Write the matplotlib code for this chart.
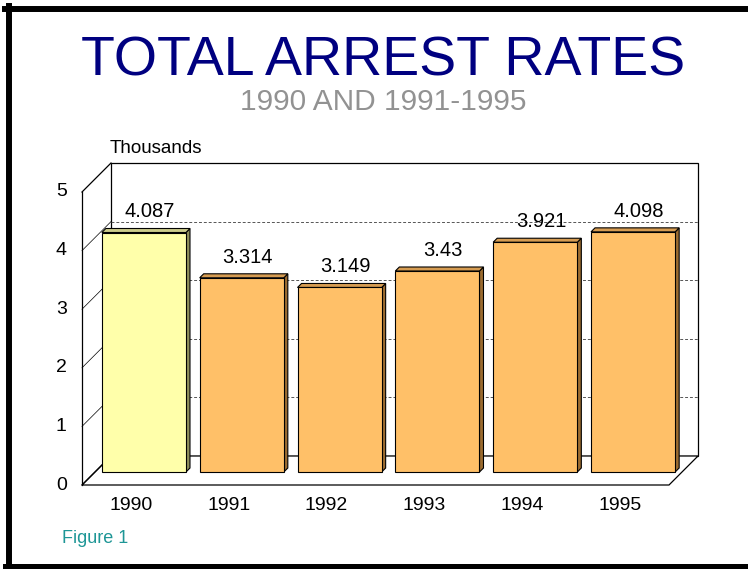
import matplotlib
matplotlib.use('Agg')
import matplotlib.pyplot as plt
from matplotlib.patches import Polygon
from matplotlib.lines import Line2D

plt.rcParams['font.family'] = ['Liberation Sans', 'DejaVu Sans']

years = ['1990', '1991', '1992', '1993', '1994', '1995']
rates = [4.087, 3.314, 3.149, 3.43, 3.921, 4.098]
labels = ['4.087', '3.314', '3.149', '3.43', '3.921', '4.098']
yticks = [0, 1, 2, 3, 4, 5]

# face / top / side colours: first year highlighted in yellow
face_cols = ['#FFFFAA'] + ['#FFC068'] * 5
top_cols = ['#CDCD8C'] + ['#D69C52'] * 5
side_cols = ['#8F8F5C'] + ['#9C6C30'] * 5

fig = plt.figure(figsize=(7.48, 5.69), dpi=100)
# axes = front plane of the 3d box
ax = fig.add_axes([82 / 748, 1 - 485 / 569, 587 / 748, 293 / 569])
ax.set_xlim(-0.5, len(years) - 0.5)
ax.set_ylim(0, 5)
ax.axis('off')

p0 = ax.transData.transform((0, 0))
p1 = ax.transData.transform((1, 1))
kx = 1.0 / (p1[0] - p0[0])
ky = 1.0 / (p1[1] - p0[1])


def sh(x, y, d):
    # move a point d pixels into the depth of the box
    return (x + d * kx, y + d * ky)


DEPTH = 29      # box depth in pixels
B0, B1 = 13, 17  # bar front / back depth
x0, x1 = -0.5, len(years) - 0.5
ymax = 5

# back wall
ax.add_patch(Polygon([sh(x0, 0, DEPTH), sh(x1, 0, DEPTH), sh(x1, ymax, DEPTH), sh(x0, ymax, DEPTH)],
                     closed=True, fc='white', ec='black', lw=0.9, clip_on=False, zorder=1))
for v in yticks[1:-1]:
    a, b = sh(x0, v, DEPTH), sh(x1, v, DEPTH)
    ax.plot([a[0], b[0]], [a[1], b[1]], color='#555555', lw=0.7, ls=(0, (3, 2)), clip_on=False, zorder=2)

# floor
ax.add_patch(Polygon([(x0, 0), (x1, 0), sh(x1, 0, DEPTH), sh(x0, 0, DEPTH)],
                     closed=True, fc='white', ec='black', lw=0.9, clip_on=False, zorder=2))

# left wall
ax.plot([x0, x0], [0, ymax], color='black', lw=0.9, clip_on=False, zorder=3)
for v in yticks:
    a = sh(x0, v, DEPTH)
    lw = 0.9 if v in (0, ymax) else 0.5
    ax.plot([x0, a[0]], [v, a[1]], color='black', lw=lw, clip_on=False, zorder=3)

# bars
w = 0.86
for i, (v, lab) in enumerate(zip(rates, labels)):
    l, r = i - w / 2, i + w / 2
    side = [sh(r, 0, B0), sh(r, 0, B1), sh(r, v, B1), sh(r, v, B0)]
    top = [sh(l, v, B0), sh(r, v, B0), sh(r, v, B1), sh(l, v, B1)]
    front = [sh(l, 0, B0), sh(r, 0, B0), sh(r, v, B0), sh(l, v, B0)]
    for pts, c in ((side, side_cols[i]), (top, top_cols[i]), (front, face_cols[i])):
        ax.add_patch(Polygon(pts, closed=True, fc=c, ec='black', lw=0.8,
                             joinstyle='miter', clip_on=False, zorder=5 + i))
    tx, ty = sh(i, v, B1)
    ax.annotate(lab, (tx + 0.02, ty), xytext=(0, 8), textcoords='offset points',
                ha='center', va='baseline', fontsize=14.5, color='black', zorder=20)

# tick labels
for v in yticks:
    ax.annotate(str(v), (x0, v), xytext=(-11, 0), textcoords='offset points',
                ha='right', va='center', fontsize=14)
for i, yr in enumerate(years):
    ax.annotate(yr, (i, 0), xytext=(0, -8.5), textcoords='offset points',
                ha='center', va='top', fontsize=14)

# titles
fig.text(0.512, 1 - 75 / 569, 'TOTAL ARREST RATES', ha='center', va='baseline',
         fontsize=40, color='#000080')
fig.text(0.512, 1 - 110 / 569, '1990 AND 1991-1995', ha='center', va='baseline',
         fontsize=21.5, color='#929292')
fig.text(110 / 748, 1 - 153 / 569, 'Thousands', ha='left', va='baseline', fontsize=13.5)
fig.text(62 / 748, 1 - 543 / 569, 'Figure 1', ha='left', va='baseline',
         fontsize=13, color='#1E9696')

# frame (no right edge)
fig.add_artist(Line2D([5 / 748, 1], [1 - 9 / 569] * 2, color='black', lw=4.3))
fig.add_artist(Line2D([9 / 748] * 2, [1 - 6 / 569, 1 - 569 / 569], color='black', lw=4.3))
fig.add_artist(Line2D([5 / 748, 1], [1 - 566 / 569] * 2, color='black', lw=3.6))

fig.savefig('out.png', dpi=100)
